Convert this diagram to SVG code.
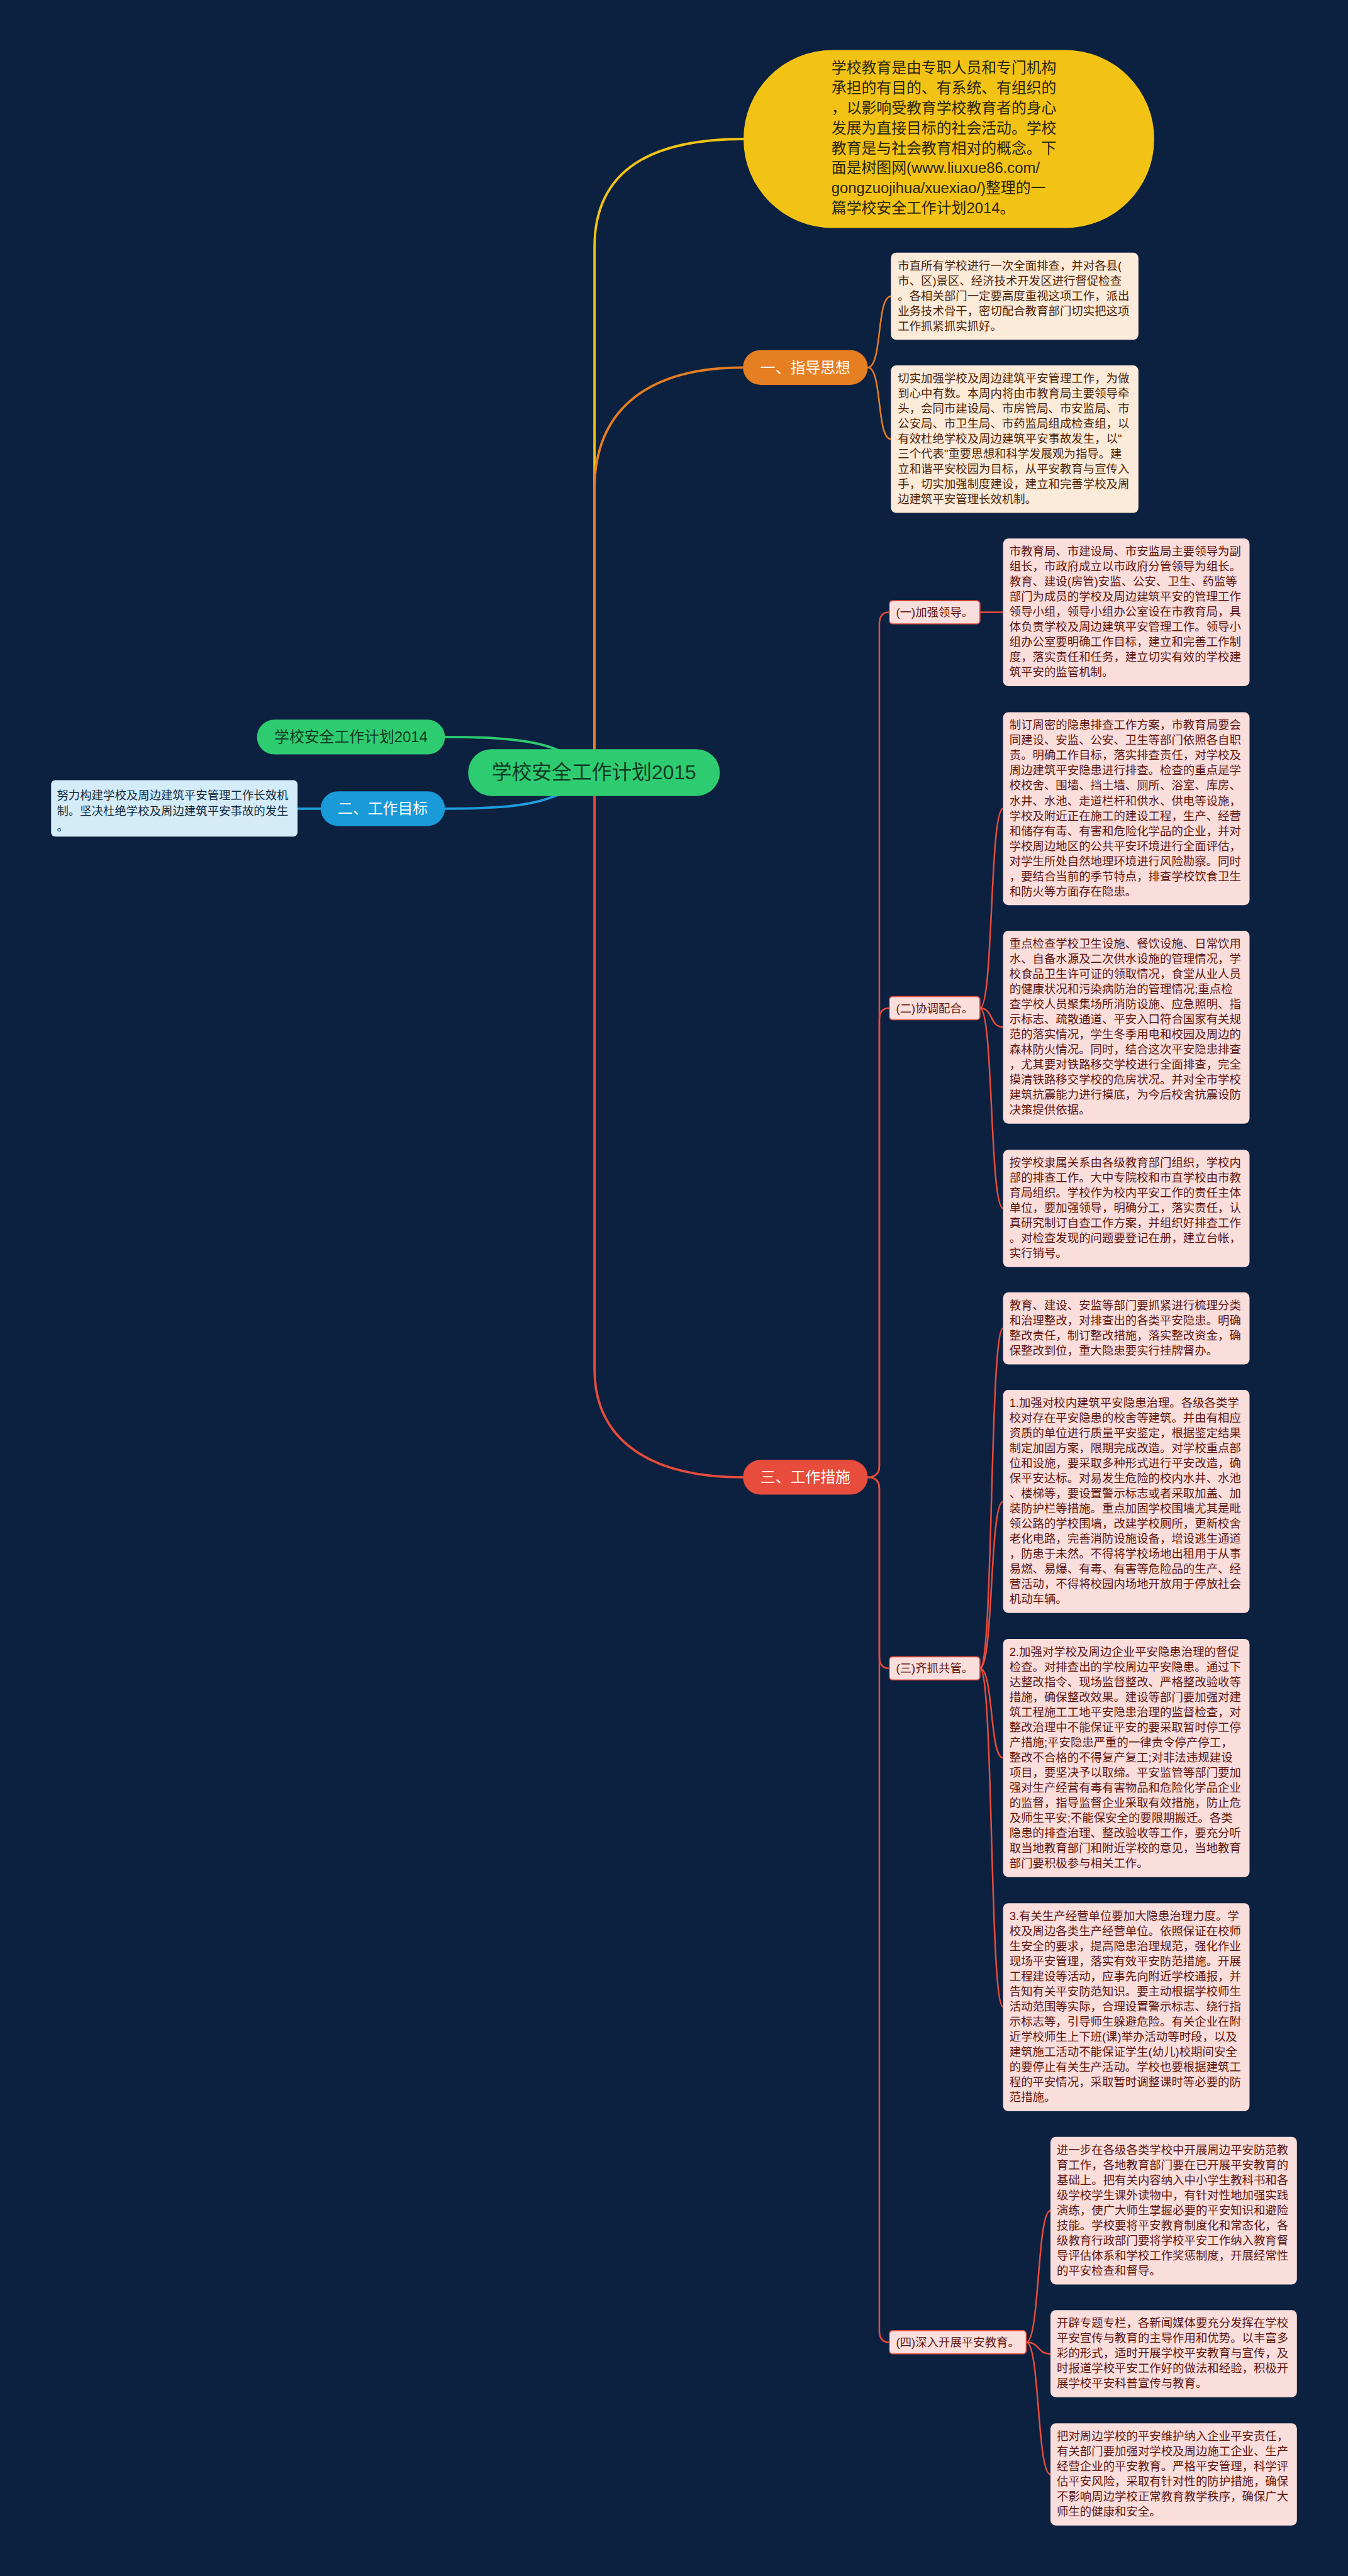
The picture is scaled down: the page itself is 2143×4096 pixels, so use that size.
<svg xmlns="http://www.w3.org/2000/svg" width="2143" height="4096" viewBox="0 0 2143 4096">
<defs>
<style>
text{font-family:"Liberation Sans","Noto Sans CJK SC",sans-serif}
.lk{fill:none;stroke-linecap:round;stroke-linejoin:round}
.main{stroke-width:4.5}
.sub{stroke-width:3}
.y{stroke:#f2c314}.o{stroke:#e67e22}.r{stroke:#e74c3c}.g{stroke:#2ecc71}.b{stroke:#1f9ee0}
.guide{fill:#fcebd9}
.guide-t{fill:#4d2308;font-size:22px}
.pink{fill:#fadedc}
.pink-t{fill:#5e1510;font-size:22px}
.lab{fill:#fadedc;stroke:#e74c3c;stroke-width:2}
.lab-t{fill:#5e1510;font-size:22px;text-anchor:middle}
.nd-t{font-size:28.5px;text-anchor:middle}
</style>
</defs>
<rect width="2143" height="4096" fill="#0c213f"/>
<g transform="scale(0.837109)">
<g id="connectors">
<path class="lk main y" d="M1129 1467 L1129 470 C1129 320 1240 264 1413 264"/>
<path class="lk main o" d="M1129 1467 L1129 930 C1129 770 1240 698 1411 698"/>
<path class="lk main r" d="M1129 1467 L1129 2600 C1129 2740 1240 2806 1411 2806"/>
<path class="lk main g" d="M1128 1467 C1060 1410 1000 1400 845 1400"/>
<path class="lk main b" d="M1128 1467 C1060 1524 1000 1536 845 1536"/>
<path class="lk main b" d="M560 1536 L620 1536"/>
<path class="lk sub o" d="M1648 698 C1676 698 1664 563 1692 563"/>
<path class="lk sub o" d="M1648 698 C1676 698 1664 834 1692 834"/>
<path class="lk sub r" d="M1648 2806 Q1670 2806 1670 2784 L1670 1185 Q1670 1163 1689 1163"/>
<path class="lk sub r" d="M1648 2806 Q1670 2806 1670 2784 L1670 1937 Q1670 1915 1689 1915"/>
<path class="lk sub r" d="M1648 2806 Q1670 2806 1670 2828 L1670 3147 Q1670 3169 1689 3169"/>
<path class="lk sub r" d="M1648 2806 Q1670 2806 1670 2828 L1670 4427 Q1670 4449 1689 4449"/>
<path class="lk sub r" d="M1861 1163 L1905 1163"/>
<path class="lk sub r" d="M1861 1915 C1887 1915 1879 1536 1905 1536"/>
<path class="lk sub r" d="M1861 1915 C1887 1915 1879 1951 1905 1951"/>
<path class="lk sub r" d="M1861 1915 C1887 1915 1879 2295 1905 2295"/>
<path class="lk sub r" d="M1861 3169 C1887 3169 1879 2523 1905 2523"/>
<path class="lk sub r" d="M1861 3169 C1887 3169 1879 2852 1905 2852"/>
<path class="lk sub r" d="M1861 3169 C1887 3169 1879 3339 1905 3339"/>
<path class="lk sub r" d="M1861 3169 C1887 3169 1879 3812 1905 3812"/>
<path class="lk sub r" d="M1949 4449 C1975 4449 1969 4199 1995 4199"/>
<path class="lk sub r" d="M1949 4449 C1975 4449 1969 4471 1995 4471"/>
<path class="lk sub r" d="M1949 4449 C1975 4449 1969 4700 1995 4700"/>
</g>

<g id="root">
<rect x="889" y="1423" width="478" height="89" rx="44.5" fill="#2ecc71"/>
<text x="1128" y="1480" font-size="38" text-anchor="middle" fill="#103a22">学校安全工作计划2015</text>
</g>

<g id="n-2014">
<rect x="488" y="1367" width="357" height="66" rx="33" fill="#2ecc71"/>
<text class="nd-t" x="666.5" y="1410" fill="#103a22">学校安全工作计划2014</text>
</g>

<g id="n-goal">
<rect x="609" y="1503" width="236" height="66" rx="33" fill="#1a9ad8"/>
<text class="nd-t" x="727" y="1546" fill="#ffffff">二、工作目标</text>
</g>
<g id="n-goal-detail">
<rect x="97" y="1482" width="468" height="107" rx="8" fill="#d4ecf8"/>
<text font-size="22" fill="#10283c"><tspan x="108" y="1518">努力构建学校及周边建筑平安管理工作长效机</tspan><tspan x="108" y="1548">制。坚决杜绝学校及周边建筑平安事故的发生</tspan><tspan x="108" y="1578">。</tspan></text>
</g>

<g id="n-intro">
<rect x="1412" y="95" width="780" height="338" rx="169" fill="#f2c314"/>
<text font-size="28.5" fill="#2a2410"><tspan x="1579" y="139">学校教育是由专职人员和专门机构</tspan><tspan x="1579" dy="38">承担的有目的、有系统、有组织的</tspan><tspan x="1579" dy="38">，以影响受教育学校教育者的身心</tspan><tspan x="1579" dy="38">发展为直接目标的社会活动。学校</tspan><tspan x="1579" dy="38">教育是与社会教育相对的概念。下</tspan><tspan x="1579" dy="38">面是树图网(www.liuxue86.com/</tspan><tspan x="1579" dy="38">gongzuojihua/xuexiao/)整理的一</tspan><tspan x="1579" dy="38">篇学校安全工作计划2014。</tspan></text>
</g>

<g id="n-guide">
<rect x="1411" y="665" width="237" height="66" rx="33" fill="#e67e22"/>
<text class="nd-t" x="1529.5" y="708" fill="#ffffff">一、指导思想</text>
</g>
<g id="n-guide-1">
<rect class="guide" x="1692" y="480" width="470" height="165.5" rx="10"/>
<text class="guide-t"><tspan x="1705" y="512">市直所有学校进行一次全面排查，并对各县(</tspan><tspan x="1705" dy="28.7">市、区)景区、经济技术开发区进行督促检查</tspan><tspan x="1705" dy="28.7">。各相关部门一定要高度重视这项工作，派出</tspan><tspan x="1705" dy="28.7">业务技术骨干，密切配合教育部门切实把这项</tspan><tspan x="1705" dy="28.7">工作抓紧抓实抓好。</tspan></text>
</g>
<g id="n-guide-2">
<rect class="guide" x="1692" y="694" width="470" height="280.3" rx="10"/>
<text class="guide-t"><tspan x="1705" y="726">切实加强学校及周边建筑平安管理工作，为做</tspan><tspan x="1705" dy="28.7">到心中有数。本周内将由市教育局主要领导牵</tspan><tspan x="1705" dy="28.7">头，会同市建设局、市房管局、市安监局、市</tspan><tspan x="1705" dy="28.7">公安局、市卫生局、市药监局组成检查组，以</tspan><tspan x="1705" dy="28.7">有效杜绝学校及周边建筑平安事故发生，以"</tspan><tspan x="1705" dy="28.7">三个代表"重要思想和科学发展观为指导。建</tspan><tspan x="1705" dy="28.7">立和谐平安校园为目标，从平安教育与宣传入</tspan><tspan x="1705" dy="28.7">手，切实加强制度建设，建立和完善学校及周</tspan><tspan x="1705" dy="28.7">边建筑平安管理长效机制。</tspan></text>
</g>

<g id="n-measures">
<rect x="1411" y="2773" width="237" height="66" rx="33" fill="#e74c3c"/>
<text class="nd-t" x="1529.5" y="2816" fill="#ffffff">三、工作措施</text>
</g>

<g id="n-m1">
<rect class="lab" x="1689" y="1141" width="172" height="44" rx="6"/>
<text class="lab-t" x="1775" y="1171">(一)加强领导。</text>
</g>
<g id="n-m1-1">
<rect class="pink" x="1905" y="1023" width="468" height="280.3" rx="10"/>
<text class="pink-t"><tspan x="1917" y="1055">市教育局、市建设局、市安监局主要领导为副</tspan><tspan x="1917" dy="28.7">组长，市政府成立以市政府分管领导为组长。</tspan><tspan x="1917" dy="28.7">教育、建设(房管)安监、公安、卫生、药监等</tspan><tspan x="1917" dy="28.7">部门为成员的学校及周边建筑平安的管理工作</tspan><tspan x="1917" dy="28.7">领导小组，领导小组办公室设在市教育局，具</tspan><tspan x="1917" dy="28.7">体负责学校及周边建筑平安管理工作。领导小</tspan><tspan x="1917" dy="28.7">组办公室要明确工作目标，建立和完善工作制</tspan><tspan x="1917" dy="28.7">度，落实责任和任务，建立切实有效的学校建</tspan><tspan x="1917" dy="28.7">筑平安的监管机制。</tspan></text>
</g>

<g id="n-m2">
<rect class="lab" x="1689" y="1893" width="172" height="44" rx="6"/>
<text class="lab-t" x="1775" y="1923">(二)协调配合。</text>
</g>
<g id="n-m2-1">
<rect class="pink" x="1905" y="1353" width="468" height="366.4" rx="10"/>
<text class="pink-t"><tspan x="1917" y="1385">制订周密的隐患排查工作方案，市教育局要会</tspan><tspan x="1917" dy="28.7">同建设、安监、公安、卫生等部门依照各自职</tspan><tspan x="1917" dy="28.7">责。明确工作目标，落实排查责任，对学校及</tspan><tspan x="1917" dy="28.7">周边建筑平安隐患进行排查。检查的重点是学</tspan><tspan x="1917" dy="28.7">校校舍、围墙、挡土墙、厕所、浴室、库房、</tspan><tspan x="1917" dy="28.7">水井、水池、走道栏杆和供水、供电等设施，</tspan><tspan x="1917" dy="28.7">学校及附近正在施工的建设工程，生产、经营</tspan><tspan x="1917" dy="28.7">和储存有毒、有害和危险化学品的企业，并对</tspan><tspan x="1917" dy="28.7">学校周边地区的公共平安环境进行全面评估，</tspan><tspan x="1917" dy="28.7">对学生所处自然地理环境进行风险勘察。同时</tspan><tspan x="1917" dy="28.7">，要结合当前的季节特点，排查学校饮食卫生</tspan><tspan x="1917" dy="28.7">和防火等方面存在隐患。</tspan></text>
</g>
<g id="n-m2-2">
<rect class="pink" x="1905" y="1768" width="468" height="366.4" rx="10"/>
<text class="pink-t"><tspan x="1917" y="1800">重点检查学校卫生设施、餐饮设施、日常饮用</tspan><tspan x="1917" dy="28.7">水、自备水源及二次供水设施的管理情况，学</tspan><tspan x="1917" dy="28.7">校食品卫生许可证的领取情况，食堂从业人员</tspan><tspan x="1917" dy="28.7">的健康状况和污染病防治的管理情况;重点检</tspan><tspan x="1917" dy="28.7">查学校人员聚集场所消防设施、应急照明、指</tspan><tspan x="1917" dy="28.7">示标志、疏散通道、平安入口符合国家有关规</tspan><tspan x="1917" dy="28.7">范的落实情况，学生冬季用电和校园及周边的</tspan><tspan x="1917" dy="28.7">森林防火情况。同时，结合这次平安隐患排查</tspan><tspan x="1917" dy="28.7">，尤其要对铁路移交学校进行全面排查，完全</tspan><tspan x="1917" dy="28.7">摸清铁路移交学校的危房状况。并对全市学校</tspan><tspan x="1917" dy="28.7">建筑抗震能力进行摸底，为今后校舍抗震设防</tspan><tspan x="1917" dy="28.7">决策提供依据。</tspan></text>
</g>
<g id="n-m2-3">
<rect class="pink" x="1905" y="2184" width="468" height="222.9" rx="10"/>
<text class="pink-t"><tspan x="1917" y="2216">按学校隶属关系由各级教育部门组织，学校内</tspan><tspan x="1917" dy="28.7">部的排查工作。大中专院校和市直学校由市教</tspan><tspan x="1917" dy="28.7">育局组织。学校作为校内平安工作的责任主体</tspan><tspan x="1917" dy="28.7">单位，要加强领导，明确分工，落实责任，认</tspan><tspan x="1917" dy="28.7">真研究制订自查工作方案，并组织好排查工作</tspan><tspan x="1917" dy="28.7">。对检查发现的问题要登记在册，建立台帐，</tspan><tspan x="1917" dy="28.7">实行销号。</tspan></text>
</g>

<g id="n-m3">
<rect class="lab" x="1689" y="3147" width="172" height="44" rx="6"/>
<text class="lab-t" x="1775" y="3177">(三)齐抓共管。</text>
</g>
<g id="n-m3-1">
<rect class="pink" x="1905" y="2455" width="468" height="136.8" rx="10"/>
<text class="pink-t"><tspan x="1917" y="2487">教育、建设、安监等部门要抓紧进行梳理分类</tspan><tspan x="1917" dy="28.7">和治理整改，对排查出的各类平安隐患。明确</tspan><tspan x="1917" dy="28.7">整改责任，制订整改措施，落实整改资金，确</tspan><tspan x="1917" dy="28.7">保整改到位，重大隐患要实行挂牌督办。</tspan></text>
</g>
<g id="n-m3-2">
<rect class="pink" x="1905" y="2640" width="468" height="423.8" rx="10"/>
<text class="pink-t"><tspan x="1917" y="2672">1.加强对校内建筑平安隐患治理。各级各类学</tspan><tspan x="1917" dy="28.7">校对存在平安隐患的校舍等建筑。并由有相应</tspan><tspan x="1917" dy="28.7">资质的单位进行质量平安鉴定，根据鉴定结果</tspan><tspan x="1917" dy="28.7">制定加固方案，限期完成改造。对学校重点部</tspan><tspan x="1917" dy="28.7">位和设施，要采取多种形式进行平安改造，确</tspan><tspan x="1917" dy="28.7">保平安达标。对易发生危险的校内水井、水池</tspan><tspan x="1917" dy="28.7">、楼梯等，要设置警示标志或者采取加盖、加</tspan><tspan x="1917" dy="28.7">装防护栏等措施。重点加固学校围墙尤其是毗</tspan><tspan x="1917" dy="28.7">领公路的学校围墙，改建学校厕所，更新校舍</tspan><tspan x="1917" dy="28.7">老化电路，完善消防设施设备，增设逃生通道</tspan><tspan x="1917" dy="28.7">，防患于未然。不得将学校场地出租用于从事</tspan><tspan x="1917" dy="28.7">易燃、易爆、有毒、有害等危险品的生产、经</tspan><tspan x="1917" dy="28.7">营活动，不得将校园内场地开放用于停放社会</tspan><tspan x="1917" dy="28.7">机动车辆。</tspan></text>
</g>
<g id="n-m3-3">
<rect class="pink" x="1905" y="3113" width="468" height="452.5" rx="10"/>
<text class="pink-t"><tspan x="1917" y="3145">2.加强对学校及周边企业平安隐患治理的督促</tspan><tspan x="1917" dy="28.7">检查。对排查出的学校周边平安隐患。通过下</tspan><tspan x="1917" dy="28.7">达整改指令、现场监督整改、严格整改验收等</tspan><tspan x="1917" dy="28.7">措施，确保整改效果。建设等部门要加强对建</tspan><tspan x="1917" dy="28.7">筑工程施工工地平安隐患治理的监督检查，对</tspan><tspan x="1917" dy="28.7">整改治理中不能保证平安的要采取暂时停工停</tspan><tspan x="1917" dy="28.7">产措施;平安隐患严重的一律责令停产停工，</tspan><tspan x="1917" dy="28.7">整改不合格的不得复产复工;对非法违规建设</tspan><tspan x="1917" dy="28.7">项目，要坚决予以取缔。平安监管等部门要加</tspan><tspan x="1917" dy="28.7">强对生产经营有毒有害物品和危险化学品企业</tspan><tspan x="1917" dy="28.7">的监督，指导监督企业采取有效措施，防止危</tspan><tspan x="1917" dy="28.7">及师生平安;不能保安全的要限期搬迁。各类</tspan><tspan x="1917" dy="28.7">隐患的排查治理、整改验收等工作，要充分听</tspan><tspan x="1917" dy="28.7">取当地教育部门和附近学校的意见，当地教育</tspan><tspan x="1917" dy="28.7">部门要积极参与相关工作。</tspan></text>
</g>
<g id="n-m3-4">
<rect class="pink" x="1905" y="3615" width="468" height="395.1" rx="10"/>
<text class="pink-t"><tspan x="1917" y="3647">3.有关生产经营单位要加大隐患治理力度。学</tspan><tspan x="1917" dy="28.7">校及周边各类生产经营单位。依照保证在校师</tspan><tspan x="1917" dy="28.7">生安全的要求，提高隐患治理规范，强化作业</tspan><tspan x="1917" dy="28.7">现场平安管理，落实有效平安防范措施。开展</tspan><tspan x="1917" dy="28.7">工程建设等活动，应事先向附近学校通报，并</tspan><tspan x="1917" dy="28.7">告知有关平安防范知识。要主动根据学校师生</tspan><tspan x="1917" dy="28.7">活动范围等实际，合理设置警示标志、绕行指</tspan><tspan x="1917" dy="28.7">示标志等，引导师生躲避危险。有关企业在附</tspan><tspan x="1917" dy="28.7">近学校师生上下班(课)举办活动等时段，以及</tspan><tspan x="1917" dy="28.7">建筑施工活动不能保证学生(幼儿)校期间安全</tspan><tspan x="1917" dy="28.7">的要停止有关生产活动。学校也要根据建筑工</tspan><tspan x="1917" dy="28.7">程的平安情况，采取暂时调整课时等必要的防</tspan><tspan x="1917" dy="28.7">范措施。</tspan></text>
</g>

<g id="n-m4">
<rect class="lab" x="1689" y="4427" width="260" height="44" rx="6"/>
<text class="lab-t" x="1819" y="4457">(四)深入开展平安教育。</text>
</g>
<g id="n-m4-1">
<rect class="pink" x="1995" y="4059" width="468" height="280.3" rx="10"/>
<text class="pink-t"><tspan x="2007" y="4091">进一步在各级各类学校中开展周边平安防范教</tspan><tspan x="2007" dy="28.7">育工作，各地教育部门要在已开展平安教育的</tspan><tspan x="2007" dy="28.7">基础上。把有关内容纳入中小学生教科书和各</tspan><tspan x="2007" dy="28.7">级学校学生课外读物中，有针对性地加强实践</tspan><tspan x="2007" dy="28.7">演练，使广大师生掌握必要的平安知识和避险</tspan><tspan x="2007" dy="28.7">技能。学校要将平安教育制度化和常态化，各</tspan><tspan x="2007" dy="28.7">级教育行政部门要将学校平安工作纳入教育督</tspan><tspan x="2007" dy="28.7">导评估体系和学校工作奖惩制度，开展经常性</tspan><tspan x="2007" dy="28.7">的平安检查和督导。</tspan></text>
</g>
<g id="n-m4-2">
<rect class="pink" x="1995" y="4388" width="468" height="165.5" rx="10"/>
<text class="pink-t"><tspan x="2007" y="4420">开辟专题专栏，各新闻媒体要充分发挥在学校</tspan><tspan x="2007" dy="28.7">平安宣传与教育的主导作用和优势。以丰富多</tspan><tspan x="2007" dy="28.7">彩的形式，适时开展学校平安教育与宣传，及</tspan><tspan x="2007" dy="28.7">时报道学校平安工作好的做法和经验，积极开</tspan><tspan x="2007" dy="28.7">展学校平安科普宣传与教育。</tspan></text>
</g>
<g id="n-m4-3">
<rect class="pink" x="1995" y="4603" width="468" height="194.2" rx="10"/>
<text class="pink-t"><tspan x="2007" y="4635">把对周边学校的平安维护纳入企业平安责任，</tspan><tspan x="2007" dy="28.7">有关部门要加强对学校及周边施工企业、生产</tspan><tspan x="2007" dy="28.7">经营企业的平安教育。严格平安管理，科学评</tspan><tspan x="2007" dy="28.7">估平安风险，采取有针对性的防护措施，确保</tspan><tspan x="2007" dy="28.7">不影响周边学校正常教育教学秩序，确保广大</tspan><tspan x="2007" dy="28.7">师生的健康和安全。</tspan></text>
</g>
</g>
</svg>
